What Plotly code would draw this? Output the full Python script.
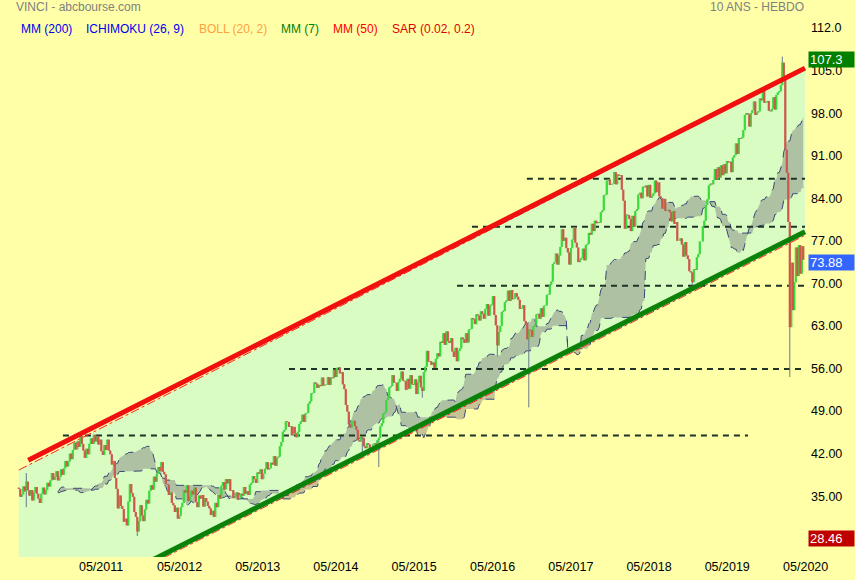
import numpy as np
import pandas as pd
import plotly.graph_objects as go

# ---------------- DATA ----------------
START = "2010-04-12"          # first weekly candle shown (Monday)

# 52 weeks before START, used only to warm up the Ichimoku cloud
pre_close = [32.0, 32.6, 33.4, 34.1, 33.6, 34.8, 35.5, 36.2, 35.4, 34.6, 35.1, 34.3, 35.6, 36.4, 37.1, 37.8, 37.2, 38.0,
             38.6, 39.2, 38.5, 39.4, 38.7, 37.9, 38.2, 37.6, 37.0, 37.8, 38.1, 37.4, 36.6, 35.9, 36.4, 35.7, 36.5, 37.2,
             37.6, 36.9, 37.5, 38.0, 37.3, 36.2, 35.4, 34.6, 33.9, 34.5, 35.2, 34.8, 35.6, 36.3, 35.8, 36.4]

close_y0 = [36.2, 34.9, 35.3, 36.6, 35.8, 37.4, 36.0, 35.1, 36.0, 34.3, 35.6, 36.5, 35.4, 34.6, 33.9, 35.4, 36.4, 35.3,
            36.0, 37.2, 36.6, 37.6, 38.8, 37.7, 38.2, 39.1, 37.6, 38.2, 39.4, 38.5, 39.6, 40.8, 39.9, 40.7, 42.0, 41.1,
            42.6, 43.8, 42.7, 44.0, 43.1, 44.9, 43.6, 42.5, 41.3, 42.8, 41.9, 43.6, 44.5, 43.6, 45.1, 44.0]
close_y1 = [44.8, 43.5, 44.3, 42.4, 41.8, 43.4, 42.6, 44.3, 42.5, 41.9, 40.2, 40.8, 38.0, 36.2, 33.0, 35.1, 33.4, 32.9,
            30.8, 31.3, 30.2, 34.1, 37.0, 35.5, 34.9, 32.4, 31.6, 29.2, 30.9, 33.5, 31.8, 30.9, 32.8, 34.4, 33.8, 35.9,
            36.8, 36.1, 38.2, 37.4, 38.7, 39.8, 39.1, 40.6, 39.0, 38.6, 37.0, 36.9, 35.2, 35.6, 33.9, 33.5]
close_y2 = [32.4, 33.1, 31.3, 31.8, 33.2, 33.9, 36.0, 35.6, 36.8, 34.2, 34.9, 35.9, 35.3, 36.4, 34.0, 33.2, 35.1, 34.6,
            35.2, 33.3, 34.7, 34.1, 33.4, 33.0, 31.9, 32.6, 31.6, 33.9, 33.2, 35.2, 34.6, 36.7, 37.3, 36.1, 37.8, 37.1,
            37.8, 35.9, 36.0, 34.7, 35.0, 35.6, 34.4, 34.7, 35.4, 35.1, 36.5, 35.4, 35.8, 35.2, 36.9, 37.2]
close_y3 = [38.3, 37.8, 37.2, 38.9, 38.7, 39.4, 37.8, 38.7, 39.5, 40.6, 39.4, 39.6, 40.5, 40.2, 41.6, 40.0, 41.3, 41.5,
            43.2, 43.9, 45.6, 45.9, 47.3, 47.2, 46.4, 46.5, 45.0, 46.4, 45.3, 44.7, 45.6, 46.9, 47.3, 48.4, 47.2, 48.6,
            48.7, 50.2, 50.6, 51.9, 52.0, 53.7, 53.5, 52.8, 53.3, 53.1, 54.5, 53.2, 53.3, 53.4, 54.6, 53.3]
close_y4 = [54.5, 54.4, 55.8, 54.6, 56.1, 56.2, 55.2, 55.4, 53.4, 52.6, 50.0, 48.9, 46.8, 46.3, 47.3, 47.4, 46.5, 45.9,
            44.2, 44.0, 44.8, 44.6, 43.2, 42.9, 43.7, 43.5, 42.7, 42.7, 43.5, 43.7, 43.1, 44.2, 44.6, 46.5, 47.0, 48.6,
            48.8, 50.8, 51.2, 52.9, 53.1, 54.9, 53.7, 53.6, 52.3, 53.8, 54.3, 55.5, 54.0, 53.9, 52.5, 54.3]
close_y5 = [52.7, 54.9, 53.4, 53.3, 54.2, 51.8, 53.7, 54.8, 52.9, 52.3, 55.4, 56.3, 58.9, 57.1, 57.2, 56.6, 57.0, 56.1,
            57.6, 58.5, 58.0, 60.4, 60.2, 61.8, 59.9, 62.1, 60.5, 60.2, 61.0, 58.8, 57.9, 59.4, 57.2, 58.9, 59.3, 61.1,
            60.8, 60.2, 61.8, 60.3, 62.4, 62.5, 64.3, 64.1, 63.3, 64.9, 64.7, 63.9, 65.4, 65.0, 64.2, 65.8]
close_y6 = [66.6, 64.7, 66.3, 66.5, 67.9, 64.8, 63.1, 59.8, 62.0, 63.0, 65.3, 65.5, 66.9, 67.2, 68.8, 67.1, 68.9, 67.4,
            67.5, 68.4, 67.8, 67.3, 65.8, 65.9, 66.4, 63.8, 63.3, 60.8, 62.4, 62.3, 61.2, 62.9, 63.2, 64.9, 65.0, 64.2,
            65.9, 64.5, 66.3, 66.4, 68.1, 68.2, 69.8, 70.3, 73.2, 73.5, 74.9, 73.1, 74.6, 76.0, 78.9, 77.0]
close_y7 = [77.5, 75.8, 75.1, 73.1, 75.8, 77.2, 79.2, 76.7, 75.9, 73.5, 73.9, 74.2, 75.7, 73.8, 76.3, 76.5, 78.3, 78.0,
            79.8, 78.6, 80.3, 79.9, 80.1, 80.0, 81.7, 82.0, 84.5, 84.6, 86.9, 87.1, 86.2, 86.3, 86.4, 88.3, 86.3, 87.9,
            87.7, 87.8, 85.4, 83.6, 79.0, 81.3, 81.2, 80.6, 78.6, 81.1, 79.3, 81.9, 82.2, 84.6, 84.9, 84.0]
close_y8 = [85.9, 85.8, 86.1, 84.3, 86.2, 84.1, 84.4, 84.8, 86.9, 85.0, 86.6, 84.3, 84.0, 82.3, 83.9, 81.9, 82.0, 82.1,
            81.7, 80.2, 81.9, 79.8, 80.1, 77.0, 77.0, 77.4, 76.4, 74.4, 76.8, 74.6, 74.0, 72.0, 71.8, 70.2, 72.3, 72.2,
            74.3, 74.8, 76.9, 76.9, 79.4, 80.3, 82.9, 83.8, 86.1, 86.4, 86.3, 87.0, 88.8, 87.1, 89.1, 87.4]
close_y9 = [89.4, 87.8, 89.6, 88.1, 90.1, 89.9, 90.0, 88.3, 90.7, 91.1, 93.0, 91.3, 93.9, 93.8, 94.0, 95.2, 97.7, 98.0,
            97.8, 95.8, 98.0, 98.5, 99.9, 97.7, 98.1, 98.3, 100.4, 100.1, 101.8, 99.7, 99.8, 100.0, 98.4, 98.3, 98.7,
            100.6, 98.6, 101.0, 101.4, 101.6, 102.6, 106.3, 104.1, 92.0, 88.2, 80.1, 62.8, 73.4, 65.6, 70.2, 75.9, 71.2]
close_y10 = [76.3, 71.6, 76.1, 73.88]

# notable wick extremes: week index, high, low
spike_week = [5, 79, 229, 240, 269, 319, 340, 449, 509, 514]
spike_high = [38.8, None, None, None, None, None, None, None, 107.3, None]
spike_low = [33.2, 28.46, 41.4, 39.8, 51.2, 58.0, 49.6, 69.6, None, 54.6]

# hand-drawn channel (date, price)
red_dates, red_prices = ["2010-05-26", "2020-04-28"], [40.9, 105.4]
green_dates, green_prices = ["2011-11-28", "2020-04-28"], [24.0, 78.5]
chan_top_dates, chan_top_prices = ["2010-04-12", "2020-04-28"], [39.3, 105.2]
chan_bot_dates, chan_bot_prices = ["2010-04-12", "2020-04-28"], [12.9, 77.9]

# horizontal support / resistance levels
level_prices = [87.2, 79.3, 69.6, 55.9, 45.0]
level_start = ["2016-10-08", "2016-01-26", "2015-11-17", "2013-09-24", "2010-11-04"]
level_end = ["2020-04-28", "2020-04-28", "2020-04-28", "2020-04-28", "2019-08-06"]

y_tickvals = [112, 105, 98, 91, 84, 77, 70, 63, 56, 49, 42, 35]
y_ticktext = ["112.0", "105.0", "98.00", "91.00", "84.00", "77.00", "70.00", "63.00", "56.00", "49.00", "42.00", "35.00"]
x_tickvals = ["%d-05-01" % y for y in range(2011, 2021)]
x_ticktext = ["05/%d" % y for y in range(2011, 2021)]

# ---------------- BUILD ----------------
closes = (close_y0 + close_y1 + close_y2 + close_y3 + close_y4 + close_y5 + close_y6 + close_y7 + close_y8
          + close_y9 + close_y10)
full_c = np.array(pre_close + closes, dtype=float)
full_o = np.concatenate([[full_c[0]], full_c[:-1]])
full_h = np.maximum(full_o, full_c)
full_l = np.minimum(full_o, full_c)
NP = len(pre_close)
for w, hi, lo in zip(spike_week, spike_high, spike_low):
    if hi is not None:
        full_h[NP + w] = hi
    if lo is not None:
        full_l[NP + w] = lo

N = len(closes)
dates = pd.date_range(START, periods=N, freq="7D")
O, H, L, C = full_o[NP:], full_h[NP:], full_l[NP:], full_c[NP:]


def mid(n, t):
    return (full_h[t - n + 1:t + 1].max() + full_l[t - n + 1:t + 1].min()) / 2


cloud_x, span_a, span_b = [], [], []
for i in range(26, N):
    t = NP + i - 26
    span_a.append((mid(9, t) + mid(26, t)) / 2)
    span_b.append(mid(52, t))
    cloud_x.append(dates[i])

# candle segments (drawn as scatter so the layering follows trace order)
gx, gy, rx, ry, wx, wy = [], [], [], [], [], []
for d, o, h, l, c in zip(dates, O, H, L, C):
    wx += [d, d, None]
    wy += [l, h, None]
    if c >= o:
        gx += [d, d, None]
        gy += [o, c, None]
    else:
        rx += [d, d, None]
        ry += [o, c, None]

BG = "#ffffa8"
CH = "#d8fcc2"
FONT = "Arial, Liberation Sans, sans-serif"

fig = go.Figure()
# channel fill
fig.add_trace(go.Scatter(
    x=chan_top_dates + chan_bot_dates[::-1], y=chan_top_prices + chan_bot_prices[::-1],
    fill="toself", fillcolor=CH, line=dict(width=0), mode="lines", hoverinfo="skip"))
# ichimoku cloud
fig.add_trace(go.Scatter(x=cloud_x, y=span_b, mode="lines",
                         line=dict(color="#3c4878", width=1, dash="dash"), hoverinfo="skip"))
fig.add_trace(go.Scatter(x=cloud_x, y=span_a, mode="lines", fill="tonexty",
                         fillcolor="rgba(112,108,118,0.40)",
                         line=dict(color="#3c4878", width=1, dash="dash"), hoverinfo="skip"))
# levels
for p, s, e in zip(level_prices, level_start, level_end):
    fig.add_trace(go.Scatter(x=[s, e], y=[p, p], mode="lines",
                             line=dict(color="#1e3428", width=2, dash="6px,5px"), hoverinfo="skip"))
# thin channel borders
for d, p in ((chan_top_dates, chan_top_prices), (chan_bot_dates, chan_bot_prices)):
    fig.add_trace(go.Scatter(x=d, y=p, mode="lines", line=dict(color="#ff2020", width=1, dash="dashdot"),
                             hoverinfo="skip"))
# candles: wicks then bodies
fig.add_trace(go.Scatter(x=wx, y=wy, mode="lines", line=dict(color="#687888", width=1), hoverinfo="skip"))
fig.add_trace(go.Scatter(x=gx, y=gy, mode="lines", line=dict(color="#38dc38", width=2.2), hoverinfo="skip"))
fig.add_trace(go.Scatter(x=rx, y=ry, mode="lines", line=dict(color="#d0564a", width=2.2), hoverinfo="skip"))
# thick trend lines
fig.add_trace(go.Scatter(x=red_dates, y=red_prices, mode="lines", line=dict(color="#f01010", width=5),
                         hoverinfo="skip"))
fig.add_trace(go.Scatter(x=green_dates, y=green_prices, mode="lines", line=dict(color="#0a820a", width=5),
                         hoverinfo="skip"))

W, PW, T, PB = 855, 807, 15, 557
PH = PB - T
start = pd.Timestamp(START)
xr0 = start - pd.Timedelta(days=7 * 18.8 / 1.5)
xr1 = start + pd.Timedelta(days=7 * (PW - 18.8) / 1.5)


def px(xp):
    return xp / PW


def py(yp):
    return (PB - yp) / PH


ann = [
    dict(text="VINCI - abcbourse.com", x=px(14), y=py(7.5), color="#808080", anchor="left"),
    dict(text="10 ANS - HEBDO", x=px(806), y=py(7), color="#808080", anchor="right"),
    dict(text="MM (200)", x=px(19), y=py(29), color="#0000ee", anchor="left"),
    dict(text="ICHIMOKU (26, 9)", x=px(84), y=py(29), color="#0000ee", anchor="left"),
    dict(text="BOLL (20, 2)", x=px(197), y=py(29), color="#ffa040", anchor="left"),
    dict(text="MM (7)", x=px(279), y=py(29), color="#008000", anchor="left"),
    dict(text="MM (50)", x=px(331), y=py(29), color="#ff0000", anchor="left"),
    dict(text="SAR (0.02, 0.2)", x=px(390), y=py(29), color="#dd0000", anchor="left"),
]
annotations = [dict(text=a["text"], x=a["x"], y=a["y"], xref="paper", yref="paper", xanchor=a["anchor"],
                    yanchor="middle", showarrow=False, font=dict(family=FONT, size=12, color=a["color"]))
               for a in ann]
for val, col, txt in ((H.max(), "#008000", "%.1f" % H.max()),
                      (C[-1], "#3366ff", "%.2f" % C[-1]),
                      (L.min(), "#c00000", "%.2f" % L.min())):
    annotations.append(dict(text=txt, x=1, xshift=1, y=val, yshift=-3, xref="paper", yref="y",
                            xanchor="left", yanchor="middle", showarrow=False, bgcolor=col, align="left",
                            width=43, height=13, borderpad=1,
                            font=dict(family=FONT, size=13, color="white")))

fig.update_layout(
    width=W, height=580, margin=dict(l=0, r=W - PW, t=T, b=580 - PB),
    paper_bgcolor=BG, plot_bgcolor=BG, showlegend=False,
    font=dict(family=FONT, size=12, color="black"),
    annotations=annotations,
    xaxis=dict(type="date", range=[xr0, xr1], tickvals=x_tickvals, ticktext=x_ticktext, showgrid=False,
               zeroline=False, showline=False, ticks="", automargin=False,
               tickfont=dict(size=12.5, color="black")),
    yaxis=dict(side="right", range=[25.0, 112 + (28 - T) / 6.078], tickvals=y_tickvals, ticktext=y_ticktext,
               showgrid=False, zeroline=False, showline=False, ticks="", automargin=False,
               ticklabelstandoff=3, tickfont=dict(size=12.5, color="black")),
)

fig.write_html("out.html", config={"displayModeBar": False},
               post_script="document.body.style.margin='0';document.body.style.overflow='hidden';")
